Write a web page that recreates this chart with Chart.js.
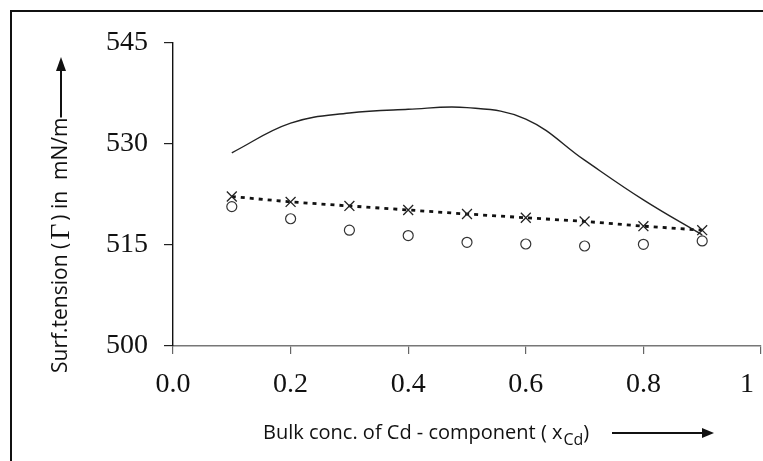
<!DOCTYPE html>
<html>
<head>
<meta charset="utf-8">
<title>Surface tension vs bulk concentration</title>
<script src="https://cdn.jsdelivr.net/npm/chart.js@4.4.1/dist/chart.umd.min.js"></script>
<style>
    html, body { margin: 0; padding: 0; background: #fff; overflow: hidden; }
    #wrap { width: 763px; height: 461px; position: relative; }
    canvas { display: block; }
</style>
</head>
<body>
<div id="wrap"><canvas id="chart"></canvas></div>
<script>
// Data
const xCd = [0.1, 0.2, 0.3, 0.4, 0.5, 0.6, 0.7, 0.8, 0.9];
const curveValues = [528.7, 533.1, 534.6, 535.15, 535.4, 533.7, 527.6, 521.7, 516.5];
const crossValues = [522.2, 521.4, 520.8, 520.2, 519.6, 519.05, 518.5, 517.8, 517.2];
const circleValues = [520.7, 518.9, 517.2, 516.4, 515.4, 515.15, 514.85, 515.1, 515.6];
const yTicks = [500, 515, 530, 545];
const xTicks = [0, 0.2, 0.4, 0.6, 0.8, 1];

const yTitleParts = ['Surf.tension (', 'Γ', ') in  mN/m'];
const xTitleMain = 'Bulk conc. of Cd - component ( x';
const xTitleSub = 'Cd';
const xTitleEnd = ')';

function toPoints(values) {
    return xCd.map((x, i) => ({ x: x, y: values[i] }));
}

// Axis titles with arrows, plus the frame
const decorations = {
    id: 'decorations',
    afterDraw(chart) {
        const ctx = chart.ctx;
        ctx.save();
        ctx.fillStyle = '#111';
        ctx.strokeStyle = '#111';

        // frame (top and left edges only)
        ctx.lineWidth = 2;
        ctx.beginPath();
        ctx.moveTo(11, 461);
        ctx.lineTo(11, 11);
        ctx.lineTo(763, 11);
        ctx.stroke();

        // y title, rotated
        ctx.save();
        ctx.translate(61, 373);
        ctx.rotate(-Math.PI / 2);
        ctx.textBaseline = 'middle';
        ctx.textAlign = 'left';
        let pos = 0;
        ctx.font = '21px "Open Sans"';
        ctx.fillText(yTitleParts[0], pos, 0);
        pos += ctx.measureText(yTitleParts[0]).width + 3;
        ctx.font = '28px "Liberation Serif"';
        ctx.fillText(yTitleParts[1], pos, 1);
        pos += ctx.measureText(yTitleParts[1]).width + 3;
        ctx.font = '21px "Open Sans"';
        ctx.fillText(yTitleParts[2], pos, 0);
        pos += ctx.measureText(yTitleParts[2]).width;
        ctx.restore();

        // y arrow
        const yEnd = 373 - pos;
        ctx.lineWidth = 2;
        ctx.beginPath();
        ctx.moveTo(61, yEnd);
        ctx.lineTo(61, 70);
        ctx.stroke();
        ctx.beginPath();
        ctx.moveTo(61, 57);
        ctx.lineTo(56, 71);
        ctx.lineTo(66, 71);
        ctx.closePath();
        ctx.fill();

        // x title
        ctx.textBaseline = 'alphabetic';
        ctx.textAlign = 'left';
        ctx.font = '20px "Open Sans"';
        let xp = 263;
        ctx.fillText(xTitleMain, xp, 439);
        xp += ctx.measureText(xTitleMain).width + 1;
        ctx.font = '16px "Open Sans"';
        ctx.fillText(xTitleSub, xp, 445);
        xp += ctx.measureText(xTitleSub).width;
        ctx.font = '20px "Open Sans"';
        ctx.fillText(xTitleEnd, xp, 439);

        // x arrow
        ctx.lineWidth = 2;
        ctx.beginPath();
        ctx.moveTo(612, 433);
        ctx.lineTo(703, 433);
        ctx.stroke();
        ctx.beginPath();
        ctx.moveTo(714, 433);
        ctx.lineTo(702, 428);
        ctx.lineTo(702, 438);
        ctx.closePath();
        ctx.fill();

        ctx.restore();
    }
};

const ctx = document.getElementById('chart').getContext('2d');
new Chart(ctx, {
    type: 'scatter',
    data: {
        datasets: [
            {
                label: 'curve',
                data: toPoints(curveValues),
                showLine: true,
                borderColor: '#222',
                borderWidth: 1.4,
                pointRadius: 0,
                tension: 0.4,
                fill: false
            },
            {
                label: 'crosses',
                data: toPoints(crossValues),
                showLine: true,
                borderColor: '#111',
                borderWidth: 2.8,
                borderDash: [4, 5],
                pointStyle: 'crossRot',
                pointRadius: 7,
                pointBorderWidth: 1.3,
                pointBorderColor: '#222',
                fill: false
            },
            {
                label: 'circles',
                data: toPoints(circleValues),
                showLine: false,
                pointStyle: 'circle',
                pointRadius: 5,
                pointBorderWidth: 1.2,
                pointBorderColor: '#333',
                pointBackgroundColor: 'rgba(255,255,255,0)'
            }
        ]
    },
    options: {
        responsive: true,
        maintainAspectRatio: false,
        animation: false,
        layout: {
            autoPadding: false,
            padding: { top: 43, right: 2, left: 0, bottom: 0 }
        },
        plugins: {
            legend: { display: false },
            tooltip: { enabled: false }
        },
        scales: {
            x: {
                type: 'linear',
                min: 0,
                max: 1,
                afterBuildTicks: (scale) => {
                    scale.ticks = xTicks.map(v => ({ value: v }));
                },
                afterFit: (scale) => {
                    scale.height = 115;
                    scale.paddingLeft = 0;
                    scale.paddingRight = 0;
                },
                ticks: {
                    maxRotation: 0,
                    autoSkip: false,
                    padding: 14,
                    color: '#111',
                    font: { family: '"Liberation Serif"', size: 28 },
                    // last label sits a little left of its tick
                    callback: (v) => v === 1 ? '1    ' : v.toFixed(1)
                },
                grid: {
                    drawOnChartArea: false,
                    drawTicks: true,
                    tickLength: 8,
                    color: '#666',
                    lineWidth: 1.2
                },
                border: { color: '#777', width: 1.4 }
            },
            y: {
                type: 'linear',
                min: 500,
                max: 545,
                afterBuildTicks: (scale) => {
                    scale.ticks = yTicks.map(v => ({ value: v }));
                },
                afterFit: (scale) => {
                    scale.width = 173;
                    scale.paddingTop = 0;
                    scale.paddingBottom = 0;
                },
                ticks: {
                    padding: 16,
                    color: '#111',
                    font: { family: '"Liberation Serif"', size: 28 }
                },
                grid: {
                    drawOnChartArea: false,
                    drawTicks: true,
                    tickLength: 9,
                    color: '#222',
                    lineWidth: 1.2
                },
                border: { color: '#111', width: 1.4 }
            }
        }
    },
    plugins: [decorations]
});
</script>
</body>
</html>
